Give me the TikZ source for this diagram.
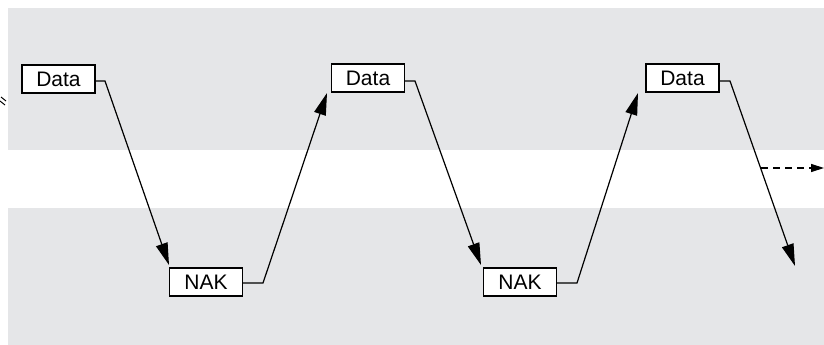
\documentclass[tikz,border=0pt]{standalone}
\usepackage{fontspec}
\setmainfont{Liberation Sans}
\usetikzlibrary{arrows.meta,calc}
\definecolor{bandgray}{RGB}{229,230,232}
\tikzset{
  msgbox/.style={draw=black, fill=white, line width=1.2pt, minimum width=73pt, minimum height=28pt, inner sep=0pt, font=\fontsize{21}{23}\selectfont},
  conn/.style={draw=black, line width=1.2pt},
  bigtip/.style={-{Triangle[length=22pt,width=12pt]}},
  smalltip/.style={-{Triangle[length=13pt,width=8pt]}},
}
\begin{document}
\begin{tikzpicture}[x=1pt,y=-1pt]
\useasboundingbox (0,0) rectangle (824,345);
% bands
\fill[bandgray] (8,8) rectangle (824,150);
\fill[bandgray] (8,208) rectangle (824,345);
% break mark
\draw[line width=1pt] (1,97) -- (6,101);
\draw[line width=1pt] (0,101) -- (5,105);
% boxes
\node[msgbox] (d1) at (58.5,79) {Data};
\node[msgbox] (n1) at (206,282) {NAK};
\node[msgbox] (d2) at (368,78) {Data};
\node[msgbox] (n2) at (520,282) {NAK};
\node[msgbox] (d3) at (682.5,78) {Data};
% bend points
\coordinate (b1) at (105,81);
\coordinate (b2) at (263,283);
\coordinate (b3) at (415,81);
\coordinate (b4) at (577,283);
\coordinate (b5) at (730,81);
\coordinate (t1) at (169,265);
\coordinate (t2) at (327,93);
\coordinate (t3) at (481,265);
\coordinate (t4) at (638,93);
\coordinate (t5) at (795,266);
\coordinate (ds) at (761,168);
\coordinate (de) at (824,168);
% connectors
\draw[conn,bigtip] ($(d1.east)+(0,2)$) -- (b1) -- (t1);
\draw[conn,bigtip] ($(n1.east)+(0,1)$) -- (b2) -- (t2);
\draw[conn,bigtip] ($(d2.east)+(0,3)$) -- (b3) -- (t3);
\draw[conn,bigtip] ($(n2.east)+(0,1)$) -- (b4) -- (t4);
\draw[conn,bigtip] ($(d3.east)+(0,3)$) -- (b5) -- (t5);
\draw[conn,smalltip,dash pattern=on 7pt off 5pt] (ds) -- (de);
\end{tikzpicture}
\end{document}
